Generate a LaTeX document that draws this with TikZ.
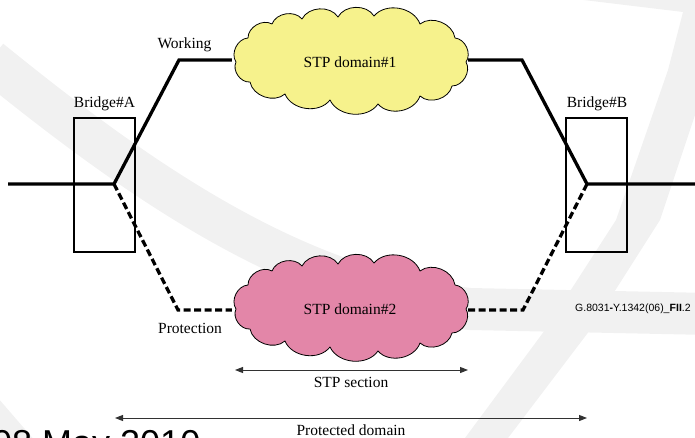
\documentclass[tikz,border=0pt]{standalone}
\usepackage{fontspec}
\setmainfont{Liberation Serif}
\newfontfamily\arialfont{Liberation Sans}
\usetikzlibrary{arrows.meta}
\definecolor{cloudyellow}{RGB}{246,242,140}
\definecolor{cloudpink}{RGB}{227,134,168}
\definecolor{wmgray}{RGB}{241,241,241}
\definecolor{arrowgray}{RGB}{50,50,50}
\tikzset{
  thickline/.style={line width=3.3pt, line join=miter},
  dashline/.style={line width=3.3pt, dash pattern=on 7pt off 3.5pt},
  bridgebox/.style={draw, line width=1.2pt, minimum width=61pt, minimum height=134pt, inner sep=0pt},
  cloudtext/.style={minimum width=236pt, minimum height=100pt, inner sep=0pt, font=\fontsize{15.5}{18}\selectfont},
  cloudline/.style={draw, line width=0.8pt, line join=round},
  lbl/.style={font=\fontsize{15.5}{18}\selectfont, inner sep=0pt},
  dimarrow/.style={draw=arrowgray, line width=1pt, {Triangle[length=8pt,width=6pt]}-{Triangle[length=8pt,width=6pt]}},
  wmband/.style={draw=wmgray, line width=42pt},
  cloudpic/.pic={
    \path[pic actions] (-114,0) to[bend left=60] (-102,-24) to[bend left=60] (-78,-38)
      to[bend left=60] (-48,-43) to[bend left=60] (-12,-45) to[bend left=60] (24,-46)
      to[bend left=60] (70,-38) to[bend left=60] (105,-24) to[bend left=60] (116,0)
      to[bend left=60] (102,24) to[bend left=60] (70,34) to[bend left=60] (28,42)
      to[bend left=60] (-20,38) to[bend left=60] (-65,32) to[bend left=60] (-100,20)
      to[bend left=60] (-114,0) -- cycle;
  },
}
\begin{document}
\begin{tikzpicture}[x=1pt,y=-1pt]
\useasboundingbox (0,0) rectangle (695,438);
\clip (0,0) rectangle (695,438);
% watermark
\draw[wmband] (-10,60) .. controls (150,190) and (300,290) .. (470,309) -- (710,314);
\fill[wmgray] (462,442) -- (545,330) -- (616,220) -- (668,70) -- (683,12) -- (567,-2) -- (700,-2)
  -- (700,100) -- (660,220) -- (590,330) -- (505,442) -- cycle;
\fill[wmgray] (-2,398) -- (36,442) -- (-2,442) -- cycle;
\node[anchor=north west, inner sep=0pt, font=\arialfont\fontsize{36}{40}\selectfont] (date) at (-8,430) {08 May 2010};

% bridges
\node[bridgebox] (bA) at (104.5,185) {};
\node[bridgebox] (bB) at (596.5,185) {};
\node[lbl] (lA) at (104.5,104) {Bridge\#A};
\node[lbl] (lB) at (597,104) {Bridge\#B};

% cloud text holders (named, for connectors)
\node[cloudtext] (c1) at (350,62) {};
\node[cloudtext] (c2) at (350,309) {};

% junctions and corners
\coordinate (lstart) at (8,184);
\coordinate (jA) at (114,184);
\coordinate (wA) at (179,60);
\coordinate (pA) at (178,310);
\coordinate (wB) at (522,60);
\coordinate (pB) at (523,310);
\coordinate (jB) at (587,184);
\coordinate (rend) at (700,184);

\draw[thickline] (lstart) -- (jA) -- (wA) -- (wA -| c1.west);
\draw[thickline] (wB -| c1.east) -- (wB) -- (jB) -- (rend);
\draw[dashline] (jA) -- (pA) -- (pA -| c2.west);
\draw[dashline] (pB -| c2.east) -- (pB) -- (jB);

% clouds
\pic[cloudline, fill=cloudyellow] at (c1.center) {cloudpic};
\pic[cloudline, fill=cloudpink] at (c2.center) {cloudpic};
\node[lbl] (t1) at (c1.center) {STP domain\#1};
\node[lbl] (t2) at (c2.center) {STP domain\#2};

% labels
\node[lbl] (work) at (184.5,45) {Working};
\node[lbl] (prot) at (190,328) {Protection};
\node[anchor=west, inner sep=0pt, font=\arialfont\fontsize{10.5}{12}\selectfont] (fig) at (575,309)
  {G.8031\textbf{-}Y.1342(06)\_\textbf{FII}.2};

% dimension arrows
\coordinate (s1) at (235,370);
\coordinate (s2) at (468,370);
\draw[dimarrow] (s1) -- (s2);
\node[lbl] (stps) at (351,382) {STP section};
\coordinate (p1) at (115,418);
\coordinate (p2) at (587,418);
\draw[dimarrow] (p1) -- (p2);
\node[lbl] (protd) at (351,430) {Protected domain};
\end{tikzpicture}
\end{document}
